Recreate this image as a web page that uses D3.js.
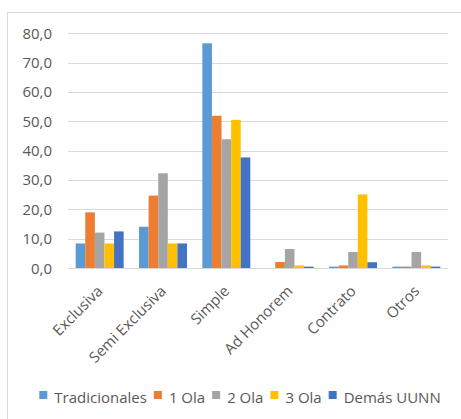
<!DOCTYPE html>
<html>
<head>
<meta charset="utf-8">
<script src="https://cdn.jsdelivr.net/npm/d3@7"></script>
<style>
  html, body { margin: 0; padding: 0; background: #fff; }
  svg { display: block; font-family: "Open Sans", sans-serif; }
</style>
</head>
<body>
<svg id="chart" width="461" height="419"></svg>
<script>
// Dedication categories (x axis)
const categories = ["Exclusiva", "Semi Exclusiva", "Simple", "Ad Honorem", "Contrato", "Otros"];
// Series names (legend)
const seriesNames = ["Tradicionales", "1 Ola", "2 Ola", "3 Ola", "Demás UUNN"];
// Percentages per series, one entry per category
const tradicionales = [8.4, 14.1, 76.6, 0.0, 0.5, 0.5];
const ola1          = [19.0, 24.7, 51.9, 2.1, 0.9, 0.5];
const ola2          = [12.1, 32.3, 43.9, 6.5, 5.5, 5.5];
const ola3          = [8.4, 8.4, 50.5, 0.9, 25.1, 0.9];
const demas         = [12.5, 8.4, 37.7, 0.5, 2.0, 0.5];
// Y axis ticks
const yTicks = [0, 10, 20, 30, 40, 50, 60, 70, 80];
const colors = ["#5B9BD5", "#ED7D31", "#A5A5A5", "#FFC000", "#4472C4"];

const seriesValues = [tradicionales, ola1, ola2, ola3, demas];
const svg = d3.select("#chart");

// Outer chart frame
svg.append("rect")
  .attr("x", 7.5).attr("y", 12.5)
  .attr("width", 470).attr("height", 420)
  .attr("fill", "none").attr("stroke", "#D9D9D9").attr("stroke-width", 1);

const plot = { left: 68, right: 448, top: 33.3, bottom: 268.1 };

const x = d3.scaleBand().domain(categories).range([plot.left, plot.right]).paddingInner(0).paddingOuter(0);
const x1 = d3.scaleBand().domain(d3.range(seriesNames.length))
  .range([0, x.bandwidth()]).paddingOuter(0.8).paddingInner(0);
const y = d3.scaleLinear().domain([0, 80]).range([plot.bottom, plot.top]);

// Gridlines
svg.append("g").selectAll("line").data(yTicks).join("line")
  .attr("x1", plot.left).attr("x2", plot.right)
  .attr("y1", d => Math.round(y(d)) + 0.5).attr("y2", d => Math.round(y(d)) + 0.5)
  .attr("stroke", "#D9D9D9").attr("stroke-width", 1);

// Y axis labels
const fmt = d => d3.format(".1f")(d).replace(".", ",");
svg.append("g").selectAll("text").data(yTicks).join("text")
  .attr("x", 52).attr("y", d => y(d))
  .attr("dy", "0.36em")
  .attr("text-anchor", "end")
  .attr("font-size", 15)
  .attr("fill", "#595959")
  .text(fmt);

// Bars
const groups = svg.append("g").selectAll("g").data(categories).join("g")
  .attr("transform", c => `translate(${x(c)},0)`);
groups.selectAll("rect")
  .data((c, ci) => seriesValues.map((vals, si) => ({ si, v: vals[ci] })))
  .join("rect")
  .attr("x", d => x1(d.si))
  .attr("width", x1.bandwidth())
  .attr("y", d => y(d.v))
  .attr("height", d => y(0) - y(d.v))
  .attr("fill", d => colors[d.si]);

// Baseline
svg.append("line")
  .attr("x1", plot.left).attr("x2", plot.right)
  .attr("y1", Math.round(y(0)) + 0.5).attr("y2", Math.round(y(0)) + 0.5)
  .attr("stroke", "#D9D9D9").attr("stroke-width", 1);

// Category labels, rotated
svg.append("g").selectAll("text").data(categories).join("text")
  .attr("transform", c => `translate(${x(c) + x.bandwidth() / 2 + 4},292) rotate(-45)`)
  .attr("text-anchor", "end")
  .attr("font-size", 15)
  .attr("fill", "#595959")
  .text(c => c);

// Legend
const legend = svg.append("g");
const items = legend.selectAll("g").data(seriesNames).join("g");
items.append("rect")
  .attr("width", 8).attr("height", 8).attr("y", 391)
  .attr("fill", (d, i) => colors[i]);
items.append("text")
  .attr("x", 15).attr("y", 403)
  .attr("font-size", 15)
  .attr("fill", "#595959")
  .text(d => d);
let cursor = 0;
items.each(function () {
  const g = d3.select(this);
  g.attr("transform", `translate(${cursor},0)`);
  cursor += 15 + g.select("text").node().getComputedTextLength() + 7;
});
const totalW = cursor - 7;
legend.attr("transform", `translate(${240 - totalW / 2},0)`);
</script>
</body>
</html>
